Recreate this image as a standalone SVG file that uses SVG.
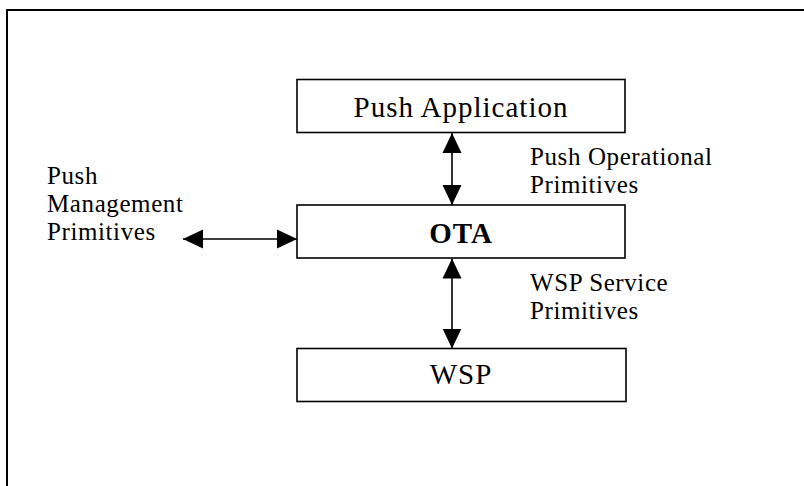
<svg xmlns="http://www.w3.org/2000/svg" width="804" height="486" viewBox="0 0 804 486">
<style>
.box{fill:#fff;stroke:#000;stroke-width:1.6}
.t{font-family:"Liberation Serif","Times New Roman",serif;fill:#000}
.big{font-size:29px;letter-spacing:1px;text-anchor:middle}
.lbl{font-size:25px;letter-spacing:0.6px}
.c{stroke:#000;stroke-width:1.6;fill:none;marker-start:url(#ah);marker-end:url(#ah)}
</style>
<defs>
<marker id="ah" viewBox="0 0 20 20" refX="20" refY="10" markerWidth="20" markerHeight="20" markerUnits="userSpaceOnUse" orient="auto-start-reverse">
<path d="M0,0.5 L20,10 L0,19.5 Z" fill="#000"/>
</marker>
</defs>
<rect width="804" height="486" fill="#fff"/>
<path d="M7,486 V10 H804" fill="none" stroke="#000" stroke-width="2"/>
<g id="connectors">
<line class="c" x1="452" y1="133" x2="452" y2="205"/>
<line class="c" x1="452" y1="258.5" x2="452" y2="348.5"/>
<line class="c" x1="183" y1="239" x2="297" y2="239"/>
</g>
<g id="push-application">
<rect class="box" x="297" y="79.5" width="328" height="53"/>
<text class="t big" x="461" y="117">Push Application</text>
</g>
<g id="ota">
<rect class="box" x="297" y="205" width="328" height="53"/>
<text class="t big" x="461" y="242.5" font-weight="bold">OTA</text>
</g>
<g id="wsp">
<rect class="box" x="297" y="348.5" width="329" height="53"/>
<text class="t big" x="461" y="383.5">WSP</text>
</g>
<g id="labels">
<text class="t lbl" x="530" y="165">Push Operational</text>
<text class="t lbl" x="530" y="192.5">Primitives</text>
<text class="t lbl" x="530" y="291">WSP Service</text>
<text class="t lbl" x="530" y="318.5">Primitives</text>
<text class="t lbl" x="47" y="183.5">Push</text>
<text class="t lbl" x="47" y="211.5">Management</text>
<text class="t lbl" x="47" y="239.5">Primitives</text>
</g>
</svg>
